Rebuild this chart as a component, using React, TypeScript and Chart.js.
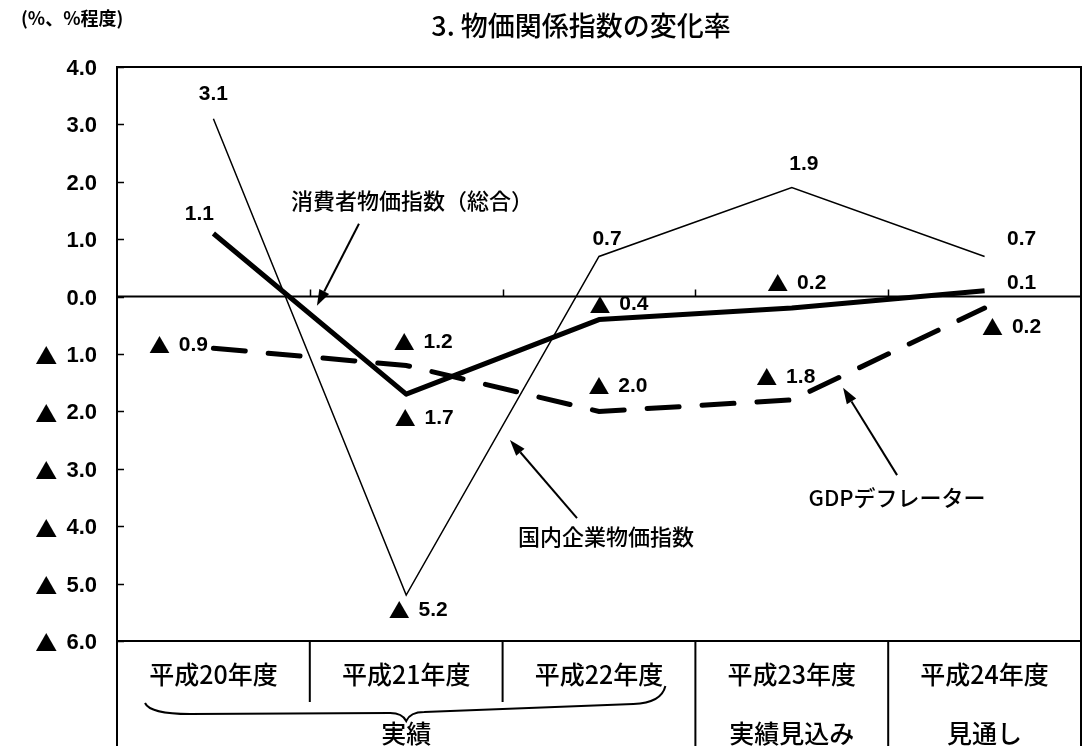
import React, { useEffect, useRef } from "react";
import { Chart, registerables } from "chart.js";

Chart.register(...registerables);

// ---- data ----
const categories = ["平成20年度", "平成21年度", "平成22年度", "平成23年度", "平成24年度"];
const periodNames = ["実績", "実績見込み", "見通し"];
const periodFirst = [0, 3, 4];
const periodLast = [2, 3, 4];
const dcgpi = [3.1, -5.2, 0.7, 1.9, 0.7]; // 国内企業物価指数
const cpi = [1.1, -1.7, -0.4, -0.2, 0.1]; // 消費者物価指数（総合）
const gdpDeflator = [-0.9, -1.2, -2.0, -1.8, -0.2]; // GDPデフレーター
const yMin = -6;
const yMax = 4;
const yStep = 1;

const titleText = "3. 物価関係指数の変化率";
const unitText = "(%、%程度)";

// ---- label placement (style, pixels relative to each point) ----
const dcgpiOffsets = [[0, -24], [12, 15], [8, -17], [12, -23], [37, -17]];
const cpiOffsets = [[-14, -19], [18, 24], [20, -15], [5, -25], [37, -8]];
const gdpOffsets = [[-35, -3], [17, -23], [19, -25], [-6, -23], [27, 19]];

// series name annotations: [labelX, labelY, tailX, tailY, headX, headY] in data units
const seriesNotes = [
  { text: "消費者物価指数（総合）", pos: [1.03, 1.68, 0.755, 1.27, 0.537, -0.16] },
  { text: "国内企業物価指数", pos: [2.036, -4.19, 1.886, -3.86, 1.538, -2.5] },
  { text: "GDPデフレーター", pos: [3.546, -3.5, 3.546, -3.11, 3.266, -1.59] },
];

const CJK = '"Noto Sans CJK JP", "Noto Sans CJK SC", sans-serif';
const NUM = '"Liberation Sans", Arial, sans-serif';

function drawSigned(
  ctx: CanvasRenderingContext2D,
  v: number,
  x: number,
  y: number,
  size: number,
  align: "center" | "right"
) {
  const num = Math.abs(v).toFixed(1);
  ctx.textBaseline = "middle";
  ctx.textAlign = "left";
  ctx.font = `bold ${size}px ${NUM}`;
  const numW = ctx.measureText(num).width;
  if (v >= 0) {
    ctx.textAlign = align;
    ctx.fillText(num, x, y);
    return;
  }
  ctx.font = `${size}px ${CJK}`;
  const m = ctx.measureText("▲");
  const triL = m.actualBoundingBoxLeft;
  const triW = m.actualBoundingBoxLeft + m.actualBoundingBoxRight;
  const gap = size * 0.42;
  const total = triW + gap + numW;
  const start = align === "center" ? x - total / 2 : x - total;
  ctx.fillText("▲", start + triL, y);
  ctx.font = `bold ${size}px ${NUM}`;
  ctx.fillText(num, start + triW + gap, y);
}

function drawArrow(ctx: CanvasRenderingContext2D, x1: number, y1: number, x2: number, y2: number) {
  const ang = Math.atan2(y2 - y1, x2 - x1);
  const len = 16;
  const hw = 5.5;
  const bx = x2 - len * Math.cos(ang);
  const by = y2 - len * Math.sin(ang);
  ctx.beginPath();
  ctx.moveTo(x1, y1);
  ctx.lineTo(bx, by);
  ctx.lineWidth = 2;
  ctx.stroke();
  ctx.beginPath();
  ctx.moveTo(x2, y2);
  ctx.lineTo(bx + hw * Math.sin(ang), by - hw * Math.cos(ang));
  ctx.lineTo(bx - hw * Math.sin(ang), by + hw * Math.cos(ang));
  ctx.closePath();
  ctx.fill();
}

const decorPlugin = {
  id: "decor",
  beforeDatasetsDraw(chart: any) {
    const { ctx, chartArea: a, scales } = chart;
    const x = scales.x;
    const y = scales.y;
    const H = chart.height;
    ctx.save();
    ctx.strokeStyle = "#000";
    ctx.fillStyle = "#000";
    ctx.lineWidth = 2;
    ctx.beginPath();
    ctx.moveTo(a.left, H);
    ctx.lineTo(a.left, a.top);
    ctx.lineTo(a.right, a.top);
    ctx.lineTo(a.right, H);
    ctx.moveTo(a.left, a.bottom);
    ctx.lineTo(a.right, a.bottom);
    const y0 = y.getPixelForValue(0);
    ctx.moveTo(a.left, y0);
    ctx.lineTo(a.right, y0);
    ctx.stroke();
    // y tick marks (inside) and labels
    ctx.lineWidth = 1.5;
    ctx.beginPath();
    y.ticks.forEach((t: any) => {
      const py = Math.round(y.getPixelForValue(t.value)) + 0.5;
      ctx.moveTo(a.left, py);
      ctx.lineTo(a.left + 7, py);
    });
    // category boundary ticks on the zero line
    for (let i = 1; i < categories.length; i++) {
      const px = Math.round(x.getPixelForValue(i - 0.5)) + 0.5;
      ctx.moveTo(px, y0);
      ctx.lineTo(px, y0 - 7);
    }
    ctx.stroke();
    y.ticks.forEach((t: any) => {
      drawSigned(ctx, t.value, a.left - 20, y.getPixelForValue(t.value) + 2, 22, "right");
    });

    // table
    ctx.lineWidth = 2;
    ctx.beginPath();
    for (let i = 1; i < categories.length; i++) {
      const px = x.getPixelForValue(i - 0.5);
      const inSpan = periodFirst.some((f, k) => i > f && i <= periodLast[k]);
      ctx.moveTo(px, a.bottom);
      ctx.lineTo(px, inSpan ? a.bottom + 61 : H);
    }
    ctx.stroke();
    ctx.restore();
  },
  afterDatasetsDraw(chart: any) {
    const { ctx, chartArea: a, scales } = chart;
    const x = scales.x;
    const y = scales.y;
    ctx.save();
    ctx.fillStyle = "#000";
    ctx.strokeStyle = "#000";

    // value labels
    const drawVals = (vals: number[], offs: number[][]) => {
      vals.forEach((v, i) => {
        const px = x.getPixelForValue(i);
        const py = y.getPixelForValue(v);
        drawSigned(ctx, v, px + offs[i][0], py + offs[i][1], 21, "center");
      });
    };
    drawVals(dcgpi, dcgpiOffsets);
    drawVals(cpi, cpiOffsets);
    drawVals(gdpDeflator, gdpOffsets);

    ctx.textAlign = "center";
    ctx.textBaseline = "middle";
    // series notes with arrows
    ctx.font = `500 22px ${CJK}`;
    seriesNotes.forEach((n) => {
      const p = n.pos;
      ctx.fillText(n.text, x.getPixelForValue(p[0]), y.getPixelForValue(p[1]));
      drawArrow(
        ctx,
        x.getPixelForValue(p[2]),
        y.getPixelForValue(p[3]),
        x.getPixelForValue(p[4]),
        y.getPixelForValue(p[5])
      );
    });

    // table text
    ctx.font = `500 25px ${CJK}`;
    categories.forEach((c, i) => {
      ctx.fillText(c, x.getPixelForValue(i), a.bottom + 33);
    });
    periodNames.forEach((n, k) => {
      const cx = (x.getPixelForValue(periodFirst[k]) + x.getPixelForValue(periodLast[k])) / 2;
      ctx.fillText(n, cx, a.bottom + 92);
    });

    // brace under the first span
    const L = x.getPixelForValue(periodFirst[0] - 0.5) + 28;
    const R = x.getPixelForValue(periodLast[0] + 0.5) - 30;
    const M = (x.getPixelForValue(periodFirst[0]) + x.getPixelForValue(periodLast[0])) / 2;
    const b = a.bottom;
    ctx.lineWidth = 2;
    ctx.beginPath();
    ctx.moveTo(L, b + 62);
    ctx.quadraticCurveTo(L + 5, b + 73, L + 45, b + 73);
    ctx.lineTo(M - 16, b + 72);
    ctx.quadraticCurveTo(M - 4, b + 72, M, b + 80);
    ctx.quadraticCurveTo(M + 4, b + 71, M + 18, b + 71);
    ctx.lineTo(R - 32, b + 63);
    ctx.quadraticCurveTo(R - 4, b + 62, R, b + 45);
    ctx.stroke();

    // title and unit
    ctx.font = `500 27px ${CJK}`;
    ctx.fillText(titleText, 581, 26);
    ctx.font = `bold 18px ${CJK}`;
    ctx.textAlign = "left";
    ctx.fillText(unitText, 21, 18);
    ctx.restore();
  },
};

export default function App() {
  const ref = useRef<HTMLCanvasElement | null>(null);
  useEffect(() => {
    if (!ref.current) return;
    const chart = new Chart(ref.current, {
      type: "line",
      data: {
        labels: categories,
        datasets: [
          {
            label: "国内企業物価指数",
            data: dcgpi,
            borderColor: "#000",
            borderWidth: 1.5,
            pointRadius: 0,
            tension: 0,
          },
          {
            label: "消費者物価指数（総合）",
            data: cpi,
            borderColor: "#000",
            borderWidth: 5,
            pointRadius: 0,
            tension: 0,
            borderJoinStyle: "round",
          },
          {
            label: "GDPデフレーター",
            data: gdpDeflator,
            borderColor: "#000",
            borderWidth: 5,
            borderDash: [32, 23],
            borderCapStyle: "round",
            pointRadius: 0,
            tension: 0,
          },
        ],
      },
      options: {
        animation: false,
        responsive: false,
        events: [],
        layout: { padding: { left: 0, top: 67, right: 7, bottom: 105 } },
        plugins: { legend: { display: false }, tooltip: { enabled: false }, title: { display: false } },
        scales: {
          x: {
            type: "category",
            display: false,
            offset: true,
          },
          y: {
            min: yMin,
            max: yMax,
            afterFit: (s: any) => {
              s.width = 117;
            },
            grid: { display: false, drawTicks: false },
            border: { display: false },
            ticks: {
              display: false,
              stepSize: yStep,
            },
          },
        },
      },
      plugins: [decorPlugin],
    });
    return () => chart.destroy();
  }, []);
  return (
    <div style={{ position: "fixed", left: 0, top: 0, width: 1088, height: 746, background: "#fff" }}>
      <canvas ref={ref} width={1088} height={746} style={{ display: "block" }} />
    </div>
  );
}
